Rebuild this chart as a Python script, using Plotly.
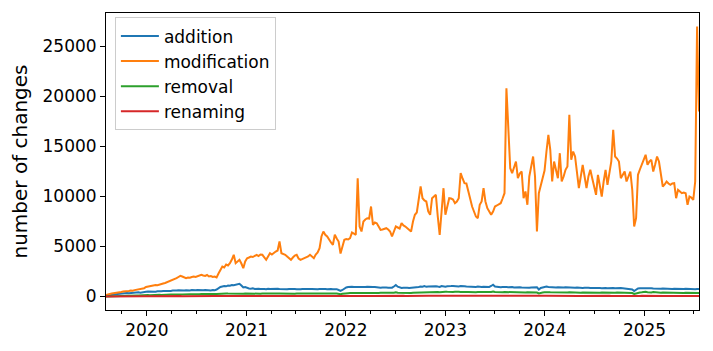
import pandas as pd
import plotly.graph_objects as go

# weekly dates
start_date = "2019-08-04"
n_weeks = 312
dates = pd.date_range(start_date, periods=n_weeks, freq="7D")

modification = [
    150, 230, 260, 300, 320, 350, 400, 420, 460, 500, 520,
    480, 560, 600, 580, 640, 670, 700, 750, 780, 830,
    950, 1000, 1050, 1080, 1100, 1150, 1120, 1200, 1230, 1300,
    1350, 1420, 1500, 1550, 1650, 1750, 1830, 1950, 2070, 2000,
    1900, 1830, 1900, 1880, 1950, 2000, 1950, 2050, 2100, 2170,
    2100, 2050, 2150, 2000, 2050, 1950, 2000, 1900, 2300, 2600,
    3000, 2900, 3200, 3100, 3330, 3700, 4170, 3330, 3500, 3670,
    3300, 2830, 3500, 3830, 3900, 4000, 3950, 4100, 4170, 4050,
    4200, 4170, 3900, 3670, 4000, 4330, 4200, 4400, 4500, 4600,
    5500, 4330, 4250, 4170, 4000, 3800, 3670, 3900, 4100, 4170,
    3800, 3670, 3750, 3800, 3900, 4000, 4170, 4000, 3830, 4200,
    4400, 4830, 6000, 6500, 6170, 6000, 5670, 5400, 5170, 6170,
    5800, 5500, 4300, 5000, 5670, 5750, 5700, 5830, 6400, 6300,
    6170, 11830, 7000, 6500, 7500, 7700, 7830, 7800, 9000, 7170,
    7400, 7330, 7000, 6670, 6700, 6800, 6830, 6700, 6500, 6000,
    6600, 7000, 6900, 6800, 7330, 7100, 7000, 6800, 6600, 6500,
    7500, 8170, 8400, 9500, 11000, 9830, 9600, 9500, 8500, 8170,
    9830, 10000, 10170, 8000, 6170, 8500, 10830, 8170, 9000, 9830,
    9800, 9700, 9330, 9500, 9830, 12330, 11800, 11330, 11300, 10500,
    9500, 9000, 8500, 8000, 7830, 9170, 9500, 10830, 9500, 8830,
    8500, 8170, 8500, 9000, 9100, 9200, 9330, 9800, 10330, 20830,
    16000, 12830, 12330, 13000, 13500, 11830, 12300, 12500, 9830, 10500,
    9170, 12000, 13170, 14000, 12000, 6500, 10330, 11000, 11800, 12600,
    14500, 16170, 14670, 11500, 13500, 12500, 11830, 14330, 11500, 12000,
    12670, 13000, 18170, 13670, 14500, 14000, 12500, 10830, 12000, 13170,
    12000, 10830, 12000, 12670, 11830, 10800, 10170, 12170, 11000, 10000,
    11500, 12670, 11170, 12500, 13500, 16670, 14000, 13800, 13500, 11830,
    12200, 12500, 11500, 12000, 12500, 10670, 7000, 7830, 12170, 12700,
    13170, 13600, 14170, 13170, 13500, 13670, 12500, 13200, 14000, 13500,
    12000, 11000, 11200, 11500, 11300, 11170, 11300, 11330, 9830, 10670,
    10500, 10330, 10400, 10330, 9170, 10000, 9900, 9670, 11500, 27000, 18500,
]

addition = [
    50, 100, 150, 180, 200, 230, 250, 280, 300, 320, 330,
    350, 330, 360, 380, 350, 400, 420, 380, 430, 450,
    470, 500, 480, 520, 500, 470, 530, 500, 520, 550,
    540, 560, 580, 550, 600, 570, 590, 620, 600, 580,
    600, 620, 590, 610, 640, 600, 620, 650, 630, 600,
    620, 640, 610, 630, 600, 650, 620, 700, 850, 950,
    1000, 1050, 1020, 1100, 1080, 1150, 1120, 1180, 1230, 1270,
    1100, 900, 950, 850, 800, 780, 820, 760, 800, 770,
    750, 790, 760, 730, 780, 740, 760, 720, 750, 780,
    760, 740, 700, 750, 720, 760, 730, 700, 740, 720,
    700, 730, 760, 740, 720, 700, 740, 760, 730, 750,
    720, 740, 760, 780, 750, 730, 760, 740, 720, 750,
    730, 650, 560, 650, 800, 900, 950, 1000, 980, 960,
    950, 1000, 980, 930, 960, 940, 980, 950, 920, 960,
    940, 900, 920, 880, 900, 860, 890, 870, 850, 880,
    1000, 1150, 980, 880, 850, 870, 900, 880, 850, 870,
    900, 920, 880, 950, 1000, 980, 1050, 970, 1000, 1020,
    980, 1000, 1030, 990, 960, 1050, 1000, 980, 1020, 1000,
    1040, 1060, 1020, 990, 1010, 1050, 1070, 1030, 1000, 980,
    960, 1000, 970, 950, 990, 960, 940, 980, 950, 930,
    960, 1050, 1180, 1000, 970, 950, 930, 960, 980, 950,
    930, 960, 940, 900, 920, 950, 930, 900, 880, 920,
    900, 870, 900, 920, 950, 930, 700, 850, 900, 950,
    1000, 960, 930, 950, 920, 900, 930, 910, 880, 900,
    920, 900, 950, 920, 900, 880, 900, 870, 890, 860,
    880, 900, 870, 850, 880, 860, 840, 870, 850, 830,
    860, 840, 830, 860, 880, 850, 830, 850, 820, 840,
    820, 800, 830, 810, 780, 700, 550, 700, 800, 820,
    830, 800, 820, 790, 810, 830, 800, 780, 810, 790,
    770, 800, 780, 760, 790, 770, 750, 780, 760, 740,
    770, 750, 740, 770, 750, 730, 760, 740, 720, 750, 760,
]

removal = [
    10, 20, 30, 40, 40, 50, 60, 50, 60, 70, 80,
    70, 90, 80, 100, 90, 110, 100, 120, 110, 130,
    120, 140, 130, 150, 140, 160, 150, 170, 160, 180,
    170, 190, 180, 200, 190, 210, 200, 190, 210, 200,
    220, 210, 200, 230, 220, 210, 240, 230, 220, 250,
    240, 230, 250, 240, 260, 250, 240, 260, 280, 270,
    290, 280, 300, 290, 280, 310, 300, 290, 310, 300,
    290, 280, 300, 290, 310, 300, 290, 280, 300, 290,
    280, 300, 290, 310, 300, 280, 290, 300, 280, 290,
    300, 290, 280, 300, 290, 310, 300, 290, 280, 300,
    290, 300, 310, 290, 300, 280, 290, 300, 310, 290,
    300, 320, 310, 300, 330, 310, 300, 320, 310, 300,
    290, 260, 220, 280, 320, 340, 330, 350, 340, 330,
    350, 340, 360, 350, 340, 360, 350, 380, 360, 350,
    370, 360, 350, 370, 360, 380, 370, 360, 350, 370,
    380, 420, 370, 360, 350, 370, 360, 380, 370, 360,
    380, 390, 370, 400, 420, 410, 430, 420, 440, 430,
    450, 440, 460, 450, 430, 470, 460, 480, 470, 450,
    470, 460, 480, 500, 470, 460, 480, 470, 450, 460,
    440, 460, 450, 430, 450, 440, 420, 440, 430, 420,
    440, 460, 500, 450, 430, 420, 440, 430, 450, 440,
    430, 440, 420, 410, 430, 420, 400, 420, 410, 400,
    420, 410, 400, 420, 410, 400, 300, 380, 400, 420,
    460, 430, 420, 410, 430, 420, 400, 410, 420, 400,
    410, 400, 430, 410, 400, 390, 410, 400, 380, 400,
    390, 380, 400, 390, 380, 370, 390, 380, 370, 390,
    380, 370, 390, 380, 400, 380, 370, 390, 380, 370,
    380, 370, 360, 380, 370, 340, 250, 320, 380, 400,
    420, 450, 480, 430, 410, 400, 450, 420, 400, 390,
    380, 400, 390, 370, 380, 360, 370, 380, 360, 350,
    370, 360, 350, 370, 360, 340, 360, 350, 340, 360, 350,
]

renaming = [
    0, 5, 5, 10, 10, 10, 15, 10, 15, 15, 20,
    20, 15, 20, 25, 20, 25, 20, 25, 30, 25,
    25, 30, 25, 30, 35, 30, 30, 35, 30, 35,
    35, 30, 35, 40, 35, 40, 35, 40, 40, 35,
    40, 45, 40, 35, 40, 45, 40, 45, 40, 45,
    40, 45, 50, 45, 40, 45, 50, 45, 50, 55,
    50, 55, 50, 55, 60, 55, 50, 55, 60, 55,
    50, 45, 50, 55, 50, 45, 50, 55, 50, 45,
    50, 55, 50, 45, 50, 55, 50, 45, 50, 55,
    50, 45, 50, 55, 50, 45, 50, 55, 50, 45,
    50, 55, 50, 45, 50, 55, 50, 45, 50, 55,
    55, 50, 55, 60, 55, 50, 55, 60, 55, 50,
    50, 45, 40, 50, 55, 60, 55, 60, 55, 60,
    60, 55, 60, 65, 60, 55, 60, 65, 60, 55,
    60, 65, 60, 55, 60, 65, 60, 55, 60, 65,
    65, 70, 60, 55, 60, 65, 60, 55, 60, 65,
    60, 65, 70, 65, 70, 75, 70, 65, 70, 75,
    70, 75, 70, 65, 70, 75, 70, 75, 70, 65,
    70, 75, 80, 75, 70, 75, 80, 75, 70, 75,
    70, 65, 70, 75, 70, 65, 70, 75, 70, 65,
    70, 75, 80, 75, 70, 65, 70, 75, 70, 65,
    65, 70, 65, 60, 65, 70, 65, 60, 65, 70,
    65, 60, 65, 70, 65, 60, 50, 60, 65, 70,
    70, 65, 60, 65, 70, 65, 60, 65, 70, 65,
    60, 65, 70, 65, 60, 65, 60, 55, 60, 65,
    60, 55, 60, 65, 60, 55, 60, 55, 60, 55,
    60, 55, 60, 65, 60, 55, 60, 55, 60, 55,
    55, 60, 55, 60, 55, 50, 40, 50, 55, 60,
    65, 70, 65, 60, 65, 60, 65, 60, 55, 60,
    55, 60, 55, 50, 55, 50, 55, 60, 55, 50,
    55, 50, 55, 50, 55, 50, 55, 50, 55, 50, 55,
]

series_names = ["addition", "modification", "removal", "renaming"]
series_values = [addition, modification, removal, renaming]
series_colors = ["#1f77b4", "#ff7f0e", "#2ca02c", "#d62728"]

year_ticks = ["2020-01-01", "2021-01-01", "2022-01-01", "2023-01-01", "2024-01-01", "2025-01-01"]
year_labels = ["2020", "2021", "2022", "2023", "2024", "2025"]
y_ticks = [0, 5000, 10000, 15000, 20000, 25000]

fig = go.Figure()
for name, vals, col in zip(series_names, series_values, series_colors):
    fig.add_trace(go.Scatter(x=dates, y=vals, mode="lines", name=name,
                             line=dict(color=col, width=2)))

font_family = "DejaVu Sans"
fs = 17
fig.update_layout(
    width=705, height=343,
    margin=dict(l=98, r=14, t=5, b=41),
    paper_bgcolor="white", plot_bgcolor="white",
    font=dict(family=font_family, size=fs, color="black"),
    showlegend=True,
    legend=dict(x=0.015, y=0.985, xanchor="left", yanchor="top",
                bgcolor="rgba(255,255,255,0.8)", bordercolor="#cccccc", borderwidth=1,
                font=dict(family=font_family, size=fs), tracegroupgap=0,
                itemwidth=38, entrywidth=130, entrywidthmode="pixels"),
    xaxis=dict(
        range=[dates[0], dates[-1]],
        tickmode="array", tickvals=year_ticks, ticktext=year_labels,
        ticks="outside", ticklen=5, tickwidth=1, tickcolor="black",
        showline=True, linecolor="black", linewidth=1, mirror=True,
        showgrid=False, zeroline=False,
        minor=dict(dtick="M3", tick0="2020-01-01", ticks="outside", ticklen=3,
                   tickcolor="black", showgrid=False),
    ),
    yaxis=dict(
        range=[-1350, 28350],
        tickmode="array", tickvals=y_ticks, ticktext=[str(v) for v in y_ticks],
        ticks="outside", ticklen=5, tickwidth=1, tickcolor="black",
        showline=True, linecolor="black", linewidth=1, mirror=True,
        showgrid=False, zeroline=False,
        title=dict(text="number of changes", standoff=10),
    ),
)

fig.write_html("out.html")
